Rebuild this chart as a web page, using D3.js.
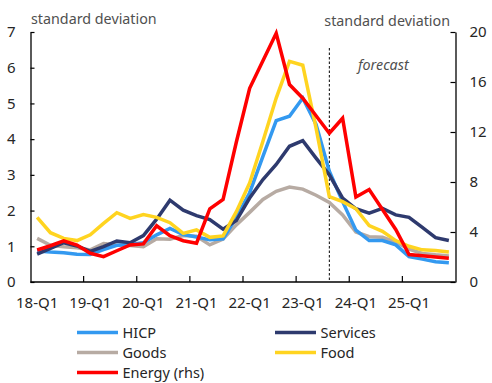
<!DOCTYPE html>
<html>
<head>
<meta charset="utf-8">
<script src="https://cdn.jsdelivr.net/npm/d3@7"></script>
<style>
  html, body { margin: 0; padding: 0; background: #fff; }
  svg { display: block; font-family: "Noto Sans", sans-serif; }
</style>
</head>
<body>
<svg id="chart" width="492" height="383"></svg>
<script>
const quarters = ["18-Q1","18-Q2","18-Q3","18-Q4","19-Q1","19-Q2","19-Q3","19-Q4",
                  "20-Q1","20-Q2","20-Q3","20-Q4","21-Q1","21-Q2","21-Q3","21-Q4",
                  "22-Q1","22-Q2","22-Q3","22-Q4","23-Q1","23-Q2","23-Q3","23-Q4",
                  "24-Q1","24-Q2","24-Q3","24-Q4","25-Q1","25-Q2","25-Q3","25-Q4"];
const xTickLabels = ["18-Q1","19-Q1","20-Q1","21-Q1","22-Q1","23-Q1","24-Q1","25-Q1"];
const leftTicks = [0,1,2,3,4,5,6,7];
const rightTicks = [0,4,8,12,16,20];
const forecastStart = "23-Q3";

const hicp     = [0.87,0.84,0.82,0.78,0.77,0.91,1.03,1.05,1.10,1.32,1.50,1.33,1.26,1.18,1.21,1.81,
                  2.50,3.52,4.52,4.64,5.15,4.41,3.10,2.25,1.45,1.16,1.16,1.04,0.71,0.64,0.57,0.54];
const services = [0.78,0.94,1.10,1.01,0.86,0.99,1.15,1.10,1.30,1.76,2.29,2.01,1.86,1.75,1.48,1.72,
                  2.35,2.87,3.29,3.80,3.96,3.47,3.00,2.35,2.05,1.93,2.06,1.88,1.81,1.53,1.24,1.16];
const goods    = [1.22,1.03,0.99,0.96,0.90,1.08,1.04,1.02,0.99,1.21,1.20,1.30,1.28,1.04,1.20,1.60,
                  1.95,2.31,2.54,2.66,2.60,2.43,2.23,1.88,1.40,1.27,1.25,1.12,0.92,0.80,0.76,0.73];
const food     = [1.81,1.38,1.22,1.16,1.32,1.64,1.94,1.78,1.89,1.81,1.66,1.36,1.46,1.25,1.29,1.97,
                  2.77,3.94,5.15,6.18,6.07,4.31,2.39,2.25,2.05,1.58,1.42,1.16,1.00,0.90,0.88,0.84];
const energy   = [2.56,2.90,3.30,2.95,2.30,2.03,2.50,2.96,3.05,4.50,3.70,3.30,3.10,5.85,6.60,11.2,
                  15.5,17.7,19.9,15.8,14.7,13.3,11.9,13.1,6.80,7.40,5.80,4.20,2.20,2.10,2.00,1.90];

const series = [
  {name: "Goods",        values: goods,    color: "#b7aba3", axis: "left"},
  {name: "HICP",         values: hicp,     color: "#3399f0", axis: "left"},
  {name: "Services",     values: services, color: "#2e3a6e", axis: "left"},
  {name: "Food",         values: food,     color: "#ffd420", axis: "left"},
  {name: "Energy (rhs)", values: energy,   color: "#ff0000", axis: "right"}
];
const legendOrder = ["HICP","Services","Goods","Food","Energy (rhs)"];

const svg = d3.select("#chart");
const L = 30.5, R = 455.5, T = 32, B = 282;

const x = d3.scaleBand().domain(quarters).range([L, R]).paddingInner(0).paddingOuter(0);
const bw = x.bandwidth();
const yL = d3.scaleLinear().domain([0, 7]).range([B, T]);
const yR = d3.scaleLinear().domain([0, 20]).range([B, T]);

const labelColor = "#262626";

// Axis titles
svg.append("text").attr("x", 31).attr("y", 23.5).attr("font-size", 14.3)
  .attr("fill", "#505050").text("standard deviation");
svg.append("text").attr("x", 450).attr("y", 26).attr("font-size", 14.3)
  .attr("text-anchor", "end").attr("fill", "#505050").text("standard deviation");

// Left axis
const gL = svg.append("g").attr("transform", `translate(${L},0)`)
  .call(d3.axisLeft(yL).tickValues(leftTicks).tickFormat(d3.format("d"))
        .tickSizeInner(-4).tickSizeOuter(0).tickPadding(15));
gL.select(".domain").attr("stroke", "#000").attr("stroke-width", 1.3);
gL.selectAll(".tick line").attr("stroke", "#000").attr("stroke-width", 1.2);
gL.selectAll(".tick text").attr("font-size", 15).attr("fill", labelColor)
  .attr("font-family", "Noto Sans, sans-serif");

// Right axis
const gR = svg.append("g").attr("transform", `translate(${R},0)`)
  .call(d3.axisRight(yR).tickValues(rightTicks).tickFormat(d3.format("d"))
        .tickSizeInner(-5).tickSizeOuter(0).tickPadding(14));
gR.select(".domain").attr("stroke", "#000").attr("stroke-width", 1.3);
gR.selectAll(".tick line").attr("stroke", "#000").attr("stroke-width", 1.2);
gR.selectAll(".tick text").attr("font-size", 15).attr("fill", labelColor)
  .attr("font-family", "Noto Sans, sans-serif");

// Bottom axis (labels at first quarter of each year)
const gB = svg.append("g").attr("transform", `translate(0,${B})`)
  .call(d3.axisBottom(x).tickValues(xTickLabels).tickSize(0).tickPadding(15.5));
gB.select(".domain").remove();
gB.selectAll(".tick text").attr("font-size", 15).attr("fill", labelColor)
  .attr("font-family", "Noto Sans, sans-serif");
svg.append("line").attr("x1", L).attr("x2", R).attr("y1", B).attr("y2", B)
  .attr("stroke", "#000").attr("stroke-width", 1.3);
svg.selectAll("line.xtick").data(xTickLabels.slice(1)).join("line").attr("class", "xtick")
  .attr("x1", d => x(d)).attr("x2", d => x(d)).attr("y1", B).attr("y2", B - 6)
  .attr("stroke", "#000").attr("stroke-width", 1.2);

// Forecast marker
const fx = x(forecastStart) + bw / 2;
svg.append("line").attr("x1", fx).attr("x2", fx).attr("y1", 48).attr("y2", B)
  .attr("stroke", "#000").attr("stroke-width", 1).attr("stroke-dasharray", "2.5,2");
svg.append("text").attr("x", 358).attr("y", 69.5).attr("font-size", 14.3)
  .attr("font-style", "italic").attr("fill", "#505050").text("forecast");

// Lines
series.forEach(s => {
  const yS = s.axis === "left" ? yL : yR;
  const line = d3.line().x((d, i) => x(quarters[i]) + bw / 2).y(d => yS(d));
  svg.append("path").datum(s.values).attr("d", line).attr("fill", "none")
    .attr("stroke", s.color).attr("stroke-width", 3.5)
    .attr("stroke-linejoin", "miter").attr("stroke-linecap", "butt");
});

// Legend
const legPos = [
  {lx: 77, ly: 332.5}, {lx: 275, ly: 332.5},
  {lx: 77, ly: 352.5}, {lx: 275, ly: 352.5},
  {lx: 77, ly: 372.5}
];
legendOrder.forEach((name, k) => {
  const s = series.find(d => d.name === name);
  const p = legPos[k];
  svg.append("line").attr("x1", p.lx).attr("x2", p.lx + 41).attr("y1", p.ly).attr("y2", p.ly)
    .attr("stroke", s.color).attr("stroke-width", 3.5);
  svg.append("text").attr("x", p.lx + 45.5).attr("y", p.ly + 5.3).attr("font-size", 14.5)
    .attr("fill", labelColor).text(name);
});
</script>
</body>
</html>
